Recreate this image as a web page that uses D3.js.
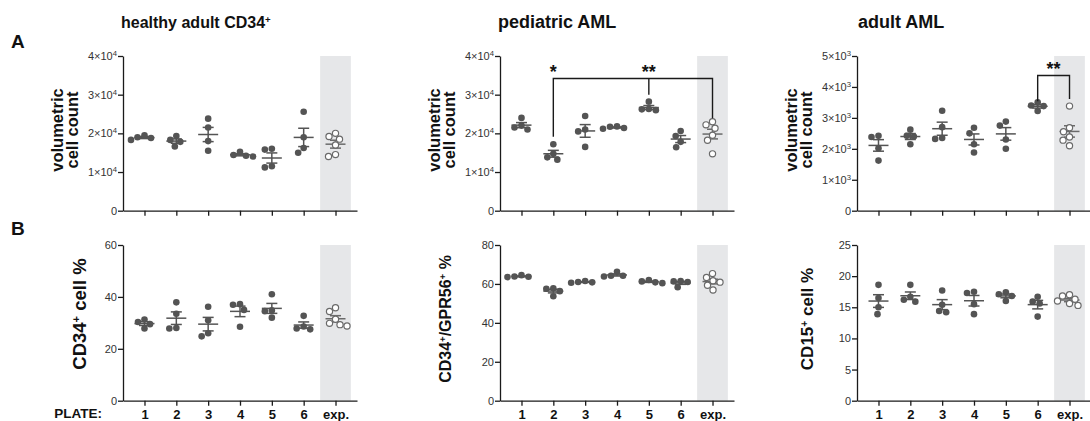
<!DOCTYPE html>
<html>
<head>
<meta charset="utf-8">
<script src="https://cdn.jsdelivr.net/npm/d3@7"></script>
<style>
body { margin: 0; background: #fff; }
svg text { font-family: "Liberation Sans", Arial, Helvetica, sans-serif; }
</style>
</head>
<body>
<svg id="fig" width="1090" height="421"></svg>
<script>
// plate categories (last one is the experimental reference)
const plates = ["1", "2", "3", "4", "5", "6", "exp."];

// A: volumetric cell count per plate
const healthyCount = [
	[19500, 19000, 18800, 18300],
	[19300, 18300, 17800, 16600],
	[23800, 21500, 18000, 15500],
	[15200, 14400, 14200, 14000],
	[16000, 15800, 11500, 11200],
	[25600, 19000, 16200, 15000],
	[20000, 19200, 18500, 17000, 14500, 14000]
];
const pediatricCount = [
	[24000, 22000, 21500, 21000],
	[17200, 14700, 13800, 13200],
	[24500, 21000, 20500, 16500],
	[21800, 21400, 21200, 21700],
	[28200, 26300, 26000, 26200],
	[20600, 19300, 17800, 16400],
	[23000, 22200, 21300, 19500, 18200, 14700]
];
const adultCount = [
	[2420, 2380, 2020, 1620],
	[2620, 2420, 2400, 2150],
	[3230, 2700, 2350, 2320],
	[2680, 2500, 2150, 1880],
	[2880, 2750, 2300, 2000],
	[3500, 3400, 3380, 3220],
	[3380, 2680, 2550, 2380, 2280, 2100]
];

// B: marker percentages per plate
const healthyCD34 = [
	[31.3, 30.3, 29.5, 27.8],
	[37.9, 33.5, 28.0, 27.8],
	[36.2, 31.0, 26.0, 24.8],
	[37.2, 37.0, 35.0, 28.5],
	[41.0, 34.8, 34.5, 32.0],
	[32.7, 28.6, 27.8, 27.5],
	[35.8, 34.4, 31.4, 29.8, 29.3, 28.8]
];
const pediatricGPR56 = [
	[64.5, 63.8, 63.5, 63.7],
	[57.8, 57.5, 56.3, 53.7],
	[61.5, 61.0, 60.6, 60.8],
	[66.2, 64.2, 63.8, 64.2],
	[62.0, 61.3, 60.8, 60.4],
	[61.5, 61.3, 61.0, 58.3],
	[65.3, 63.3, 61.6, 60.9, 59.3, 56.9]
];
const adultCD15 = [
	[18.6, 16.5, 15.0, 13.9],
	[18.6, 16.7, 16.2, 15.9],
	[17.7, 15.4, 14.4, 14.2],
	[17.5, 17.3, 15.5, 13.9],
	[17.4, 17.1, 16.8, 16.0],
	[16.7, 15.9, 15.6, 13.5],
	[17.0, 16.8, 16.3, 16.0, 15.6, 15.3]
];

// tick values
const count4Ticks = [0, 10000, 20000, 30000, 40000];
const count5Ticks = [0, 1000, 2000, 3000, 4000, 5000];
const cd34Ticks = [0, 20, 40, 60];
const gpr56Ticks = [0, 20, 40, 60, 80];
const cd15Ticks = [0, 5, 10, 15, 20, 25];

// significance brackets (values in data units)
const pediatricBracket = {from: "2", to: "exp.", top: 34200, fromEnd: 19100, toEnd: 23900, mid: "5", midEnd: 30000,
	stars: [{at: "2", text: "*"}, {at: "5", text: "**"}]};
const adultBracket = {from: "6", to: "exp.", top: 4370, fromEnd: 3540, toEnd: 3610,
	stars: [{at: null, text: "**"}]};

const titles = [["healthy adult CD34", "^+"], ["pediatric AML"], ["adult AML"]];

const svg = d3.select("#fig");
const colX = [123, 500, 857];
const rows = [{top: 56, bottom: 210.7}, {top: 245, bottom: 400.7}];
const plotW = 234;
const dotR = 3.3;
const dark = "#545454";

function rich(sel, parts) {
	parts.forEach(function(p) {
		if (p[0] == "^") {
			sel.append("tspan").attr("baseline-shift", "super").attr("font-size", "60%").text(p.slice(1));
		} else {
			sel.append("tspan").text(p);
		}
	});
}

// spread overlapping dots sideways, like a column scatter
function swarm(vals, y) {
	let placed = [];
	let offs = vals.map(function() {return 0});
	let order = vals.map(function(v, i) {return i}).sort(function(a, b) {return vals[b] - vals[a]});
	order.forEach(function(i) {
		let py = y(vals[i]);
		for (let k = 0; k < 60; k++) {
			let dx = (k % 2 ? -1 : 1) * Math.ceil(k / 2) * 0.5;
			let ok = placed.every(function(p) {return Math.hypot(p.x - dx, p.y - py) >= 2 * dotR + 0.3});
			if (ok) {
				offs[i] = dx;
				placed.push({x: dx, y: py});
				break;
			}
		}
	});
	return offs;
}

function sciTick(sel, v) {
	sel.text(null);
	if (v == 0) {
		sel.text("0");
		return;
	}
	let e = Math.floor(Math.log10(v) + 1e-9);
	let m = Math.round(v / Math.pow(10, e));
	sel.append("tspan").text(m + "\u00d710");
	sel.append("tspan").attr("baseline-shift", "super").attr("font-size", "70%").text(e);
}

function drawPanel(p) {
	let x0 = colX[p.col], r = rows[p.row];
	let g = svg.append("g");

	let x = d3.scalePoint().domain(plates).range([x0, x0 + plotW]).padding(0.675);
	let y = d3.scaleLinear().domain([0, d3.max(p.ticks)]).range([r.bottom, r.top]);
	let step = x.step();

	// shaded reference column
	g.append("rect")
		.attr("x", x("exp.") - step * 0.483)
		.attr("y", r.top)
		.attr("width", step * 0.965)
		.attr("height", r.bottom - r.top)
		.attr("fill", "#e6e7e9");

	// axes
	let yAxis = g.append("g")
		.attr("transform", "translate(" + x0 + ",0)")
		.call(d3.axisLeft(y).tickValues(p.ticks).tickSize(5).tickSizeOuter(0).tickPadding(1));
	yAxis.selectAll("text")
		.attr("font-family", null)
		.style("font-size", "11px")
		.attr("fill", "#333")
		.each(function(d) {
			if (p.sci) sciTick(d3.select(this), d);
		});

	let xAxis = g.append("g")
		.attr("transform", "translate(0," + r.bottom + ")")
		.call(d3.axisBottom(x).tickSize(5).tickSizeOuter(0).tickPadding(3.8)
			.tickFormat(p.row == 1 ? null : function() {return ""}));
	xAxis.selectAll("text")
		.attr("font-family", null)
		.style("font-size", "13px")
		.style("font-weight", "bold")
		.attr("fill", "#111");

	[yAxis, xAxis].forEach(function(a) {
		a.selectAll("path, line").attr("stroke", "#1a1a1a").attr("stroke-width", 1.3);
	});

	// dots, mean and SEM for each plate
	p.values.forEach(function(vals, i) {
		let cx = x(plates[i]);
		let open = plates[i] == "exp.";
		let offs = swarm(vals, y);
		let mean = d3.mean(vals);
		let sem = d3.deviation(vals) / Math.sqrt(vals.length);
		let col = open ? "#6a6a6a" : dark;

		g.append("line")
			.attr("x1", cx - 10).attr("x2", cx + 10)
			.attr("y1", y(mean)).attr("y2", y(mean))
			.attr("stroke", col).attr("stroke-width", 1.5);
		g.append("line")
			.attr("x1", cx).attr("x2", cx)
			.attr("y1", y(mean - sem)).attr("y2", y(mean + sem))
			.attr("stroke", col).attr("stroke-width", 1.5);
		[mean - sem, mean + sem].forEach(function(v) {
			g.append("line")
				.attr("x1", cx - 5.5).attr("x2", cx + 5.5)
				.attr("y1", y(v)).attr("y2", y(v))
				.attr("stroke", col).attr("stroke-width", 1.5);
		});

		g.selectAll(null)
			.data(vals)
			.enter()
			.append("circle")
			.attr("cx", function(d, j) {return cx + offs[j]})
			.attr("cy", function(d) {return y(d)})
			.attr("r", open ? dotR - 0.2 : dotR)
			.attr("fill", open ? "#fff" : dark)
			.attr("stroke", open ? "#6a6a6a" : "none")
			.attr("stroke-width", 1.2);
	});

	// significance bracket
	if (p.bracket) {
		let b = p.bracket;
		let xa = x(b.from), xb = x(b.to), yt = y(b.top);
		g.append("path")
			.attr("d", "M" + xa + "," + y(b.fromEnd) + "V" + yt + "H" + xb + "V" + y(b.toEnd))
			.attr("fill", "none").attr("stroke", "#1a1a1a").attr("stroke-width", 1.4);
		if (b.mid) {
			g.append("line")
				.attr("x1", x(b.mid)).attr("x2", x(b.mid))
				.attr("y1", yt).attr("y2", y(b.midEnd))
				.attr("stroke", "#1a1a1a").attr("stroke-width", 1.4);
		}
		b.stars.forEach(function(s) {
			g.append("text")
				.attr("x", s.at ? x(s.at) : (xa + xb) / 2)
				.attr("y", yt - 0.5)
				.attr("text-anchor", "middle")
				.style("font-size", "18px")
				.style("font-weight", "bold")
				.attr("fill", "#111")
				.text(s.text);
		});
	}

	// y axis label (one or two lines, rotated)
	p.label.forEach(function(line, k) {
		let t = g.append("text")
			.attr("transform", "translate(" + (x0 + p.labelX[k]) + "," + p.labelY + ")rotate(-90)")
			.attr("text-anchor", "middle")
			.style("font-size", p.labelSize + "px")
			.style("font-weight", "bold")
			.attr("fill", "#111");
		rich(t, line);
	});
}

const panels = [
	{row: 0, col: 0, values: healthyCount, ticks: count4Ticks, sci: true, label: [["volumetric"], ["cell count"]], labelX: [-60, -45], labelY: 130, labelSize: 16.5},
	{row: 0, col: 1, values: pediatricCount, ticks: count4Ticks, sci: true, label: [["volumetric"], ["cell count"]], labelX: [-60, -45], labelY: 130, labelSize: 16.5, bracket: pediatricBracket},
	{row: 0, col: 2, values: adultCount, ticks: count5Ticks, sci: true, label: [["volumetric"], ["cell count"]], labelX: [-60, -45], labelY: 130, labelSize: 16.5, bracket: adultBracket},
	{row: 1, col: 0, values: healthyCD34, ticks: cd34Ticks, sci: false, label: [["CD34", "^+", " cell %"]], labelX: [-37], labelY: 314, labelSize: 18.5},
	{row: 1, col: 1, values: pediatricGPR56, ticks: gpr56Ticks, sci: false, label: [["CD34", "^+", "/GPR56", "^+", " %"]], labelX: [-49], labelY: 319, labelSize: 16},
	{row: 1, col: 2, values: adultCD15, ticks: cd15Ticks, sci: false, label: [["CD15", "^+", " cell %"]], labelX: [-44], labelY: 319, labelSize: 17}
];

panels.forEach(drawPanel);

// column titles
const titleX = [121, 498, 858];
const titleSize = [16, 18, 18];
titles.forEach(function(t, i) {
	let el = svg.append("text")
		.attr("x", titleX[i])
		.attr("y", 28)
		.style("font-size", titleSize[i] + "px")
		.style("font-weight", "bold")
		.attr("fill", "#111");
	rich(el, t);
});

// panel letters and row caption
svg.append("text").attr("x", 11).attr("y", 48).style("font-size", "19px").style("font-weight", "bold").attr("fill", "#111").text("A");
svg.append("text").attr("x", 11).attr("y", 235).style("font-size", "19px").style("font-weight", "bold").attr("fill", "#111").text("B");
svg.append("text").attr("x", 102).attr("y", 418).attr("text-anchor", "end")
	.style("font-size", "13.5px").style("font-weight", "bold").attr("fill", "#111").text("PLATE:");
</script>
</body>
</html>
